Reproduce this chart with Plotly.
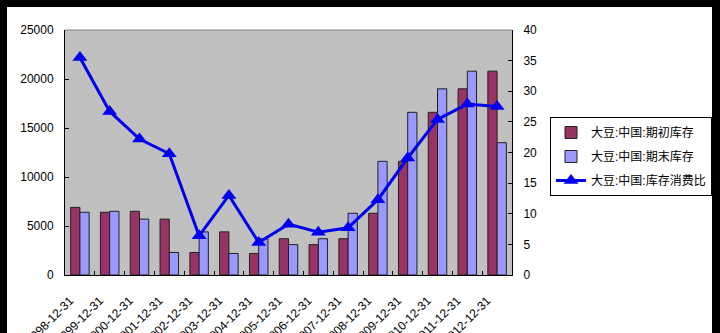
import plotly.graph_objects as go

categories = [f"{y}-12-31" for y in range(1998, 2013)]
begin_stock = [6900, 6400, 6500, 5700, 2300, 4400, 2200, 3700, 3100, 3700, 6300, 11600, 16600, 19000, 20800]
end_stock = [6400, 6500, 5700, 2300, 4400, 2200, 3700, 3100, 3700, 6300, 11600, 16600, 19000, 20800, 13500]
ratio = [35.5, 26.7, 22.2, 19.8, 6.4, 13.0, 5.3, 8.3, 7.0, 7.7, 12.3, 19.1, 25.4, 27.9, 27.5]

W, H = 720, 333
L, R, T, B = 65, 208, 30, 58
pw, ph = W - L - R, H - T - B

font_family = "Liberation Sans, Arial, Noto Sans CJK SC, sans-serif"

fig = go.Figure()
fig.add_trace(go.Bar(x=categories, y=begin_stock, name="大豆:中国:期初库存",
                     marker=dict(color="#993366", line=dict(color="#202020", width=1)),
                     legendgroup="a"))
fig.add_trace(go.Bar(x=categories, y=end_stock, name="大豆:中国:期末库存",
                     marker=dict(color="#9999FF", line=dict(color="#202020", width=1)),
                     legendgroup="b"))
fig.add_trace(go.Scatter(x=categories, y=ratio, name="大豆:中国:库存消费比", yaxis="y2",
                         mode="lines+markers",
                         line=dict(color="#0000EE", width=3),
                         marker=dict(symbol="triangle-up", size=13, color="#0000EE"),
                         legendgroup="c"))

def px_x(p):
    return (p - L) / pw

def px_y(p):
    return (H - B - p) / ph

shapes = [
    dict(type="rect", xref="paper", yref="paper", x0=px_x(0), x1=px_x(W), y0=px_y(7), y1=px_y(0),
         fillcolor="black", line=dict(width=0), layer="above"),
    dict(type="rect", xref="paper", yref="paper", x0=px_x(0), x1=px_x(7), y0=px_y(H), y1=px_y(0),
         fillcolor="black", line=dict(width=0), layer="above"),
    dict(type="rect", xref="paper", yref="paper", x0=px_x(712), x1=px_x(W), y0=px_y(H), y1=px_y(0),
         fillcolor="black", line=dict(width=0), layer="above"),
]

fig.update_layout(
    width=W, height=H,
    margin=dict(l=L, r=R, t=T, b=B, pad=0, autoexpand=False),
    paper_bgcolor="white",
    plot_bgcolor="#C0C0C0",
    font=dict(family=font_family, size=12, color="black"),
    barmode="group",
    bargap=0.38,
    bargroupgap=0,
    showlegend=True,
    legend=dict(
        x=px_x(550), y=px_y(117), xanchor="left", yanchor="top",
        bordercolor="black", borderwidth=1, bgcolor="white",
        font=dict(size=12), traceorder="grouped", tracegroupgap=5,
    ),
    xaxis=dict(
        type="category", range=[-0.5, len(categories) - 0.5], tickangle=-45, tickson="boundaries",
        ticks="inside", ticklen=4, tickcolor="black",
        showline=True, linecolor="black", linewidth=1, mirror=False,
        showgrid=False, tickfont=dict(size=12), ticklabelstandoff=13, ticklabelshift=-10,
        automargin=False,
    ),
    yaxis=dict(
        range=[0, 25000], dtick=5000, tickformat="d", ticks="inside", ticklen=4, tickcolor="black",
        showline=True, linecolor="black", linewidth=1, showgrid=False, zeroline=False,
        tickfont=dict(size=12), ticklabelstandoff=8, automargin=False,
    ),
    yaxis2=dict(
        range=[0, 40], dtick=5, overlaying="y", side="right",
        ticks="inside", ticklen=4, tickcolor="black",
        showline=True, linecolor="black", linewidth=1, showgrid=False, zeroline=False,
        tickfont=dict(size=12), ticklabelstandoff=8, automargin=False,
    ),
    shapes=shapes,
)
fig.add_shape(type="line", xref="paper", yref="paper", x0=0, x1=1, y0=1, y1=1,
              line=dict(color="#808080", width=1))

fig.write_html("out.html")
